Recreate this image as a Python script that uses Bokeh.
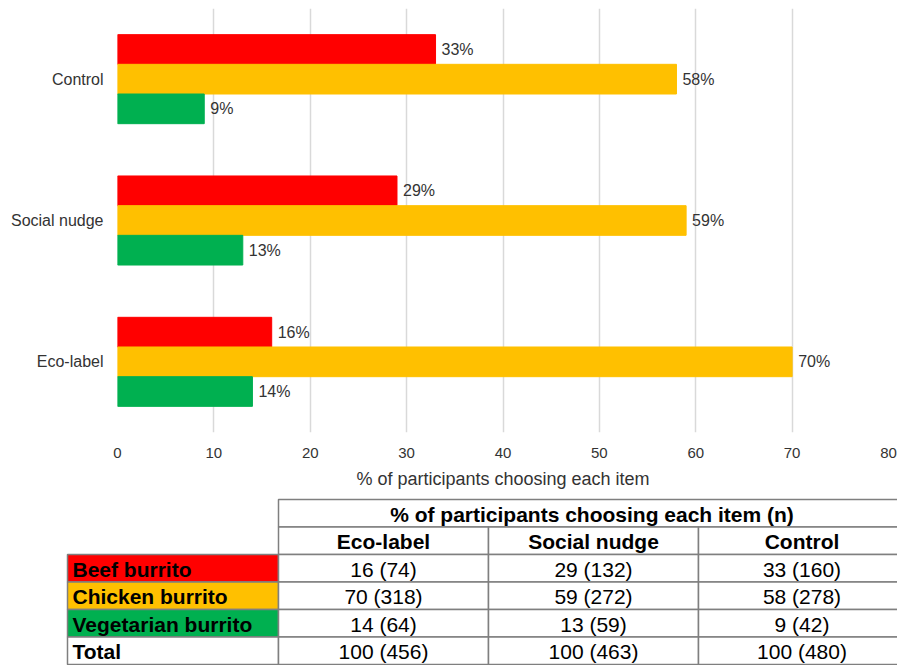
from bokeh.plotting import figure
from bokeh.models import FactorRange, Range1d, FixedTicker, ColumnDataSource
from bokeh.transform import dodge
from bokeh.layouts import column
from bokeh.core.properties import value
from bokeh.embed import file_html
from bokeh.resources import INLINE

# ---------------- data ----------------
groups = ["Eco-label", "Social nudge", "Control"]
items = ["Beef burrito", "Chicken burrito", "Vegetarian burrito"]
beef_pct = [16, 29, 33]
chicken_pct = [70, 59, 58]
veg_pct = [14, 13, 9]
total_pct = [100, 100, 100]
beef_n = [74, 132, 160]
chicken_n = [318, 272, 278]
veg_n = [64, 59, 42]
total_n = [456, 463, 480]
x_ticks = [0, 10, 20, 30, 40, 50, 60, 70, 80]
x_title = "% of participants choosing each item"
table_title = "% of participants choosing each item (n)"

FONT = "Liberation Sans"
RED, YEL, GRN = "#FF0000", "#FFC000", "#00B050"
TXT = "#333333"
W = 897

# ---------------- bar chart ----------------
src = ColumnDataSource(dict(
    group=groups, beef=beef_pct, chicken=chicken_pct, veg=veg_pct,
    beef_lbl=[f"{v}%" for v in beef_pct],
    chicken_lbl=[f"{v}%" for v in chicken_pct],
    veg_lbl=[f"{v}%" for v in veg_pct],
))

p = figure(width=W, height=493, y_range=FactorRange(*groups), x_range=Range1d(0, 80),
           output_backend="svg", toolbar_location=None,
           min_border_left=117, min_border_right=W - 888, min_border_top=8, min_border_bottom=61)
p.frame_align = False

bh = 0.21
for col, off, color in [("beef", bh, RED), ("chicken", 0.0, YEL), ("veg", -bh, GRN)]:
    yy = dodge("group", off, range=p.y_range)
    p.hbar(y=yy, left=0, right=col, height=bh, fill_color=color, line_color=color, source=src)
    p.text(x=col, y=yy, text=col + "_lbl", x_offset=6, text_baseline="middle", text_align="left",
           text_font=value(FONT), text_font_size="16px", text_color=TXT, source=src)

p.xaxis.ticker = FixedTicker(ticks=x_ticks)
p.xaxis.axis_label = x_title
for ax in (p.xaxis, p.yaxis):
    ax.axis_line_color = None
    ax.major_tick_line_color = None
    ax.minor_tick_line_color = None
    ax.major_label_text_font = FONT
    ax.major_label_text_color = TXT
p.xaxis.major_label_text_font_size = "15px"
p.yaxis.major_label_text_font_size = "16px"
p.xaxis.major_label_standoff = 9
p.yaxis.major_label_standoff = 8
p.xaxis.axis_label_text_font = FONT
p.xaxis.axis_label_text_font_style = "normal"
p.xaxis.axis_label_text_font_size = "18px"
p.xaxis.axis_label_text_color = TXT
p.xaxis.axis_label_standoff = 8
p.xgrid.grid_line_color = "#d9d9d9"
p.xgrid.grid_line_width = 1.5
p.ygrid.grid_line_color = None
p.outline_line_color = None

# ---------------- table ----------------
TH = 172
t = figure(width=W, height=TH, x_range=Range1d(0, W), y_range=Range1d(TH, 0),
           output_backend="svg", toolbar_location=None, min_border=0,
           x_axis_location=None, y_axis_location=None)
t.frame_align = False
t.grid.visible = False
t.outline_line_color = None

col_edges = [67, 278, 488, 698, 905]
rh = 27.5
top0 = 6
row_y = [top0 + rh * i for i in range(7)]

cells = dict(left=[], right=[], top=[], bottom=[], fill=[])
def add_cell(l, r, tp, b, f="white"):
    cells["left"].append(l); cells["right"].append(r)
    cells["top"].append(tp); cells["bottom"].append(b); cells["fill"].append(f)

bold = dict(x=[], y=[], text=[], align=[])
norm = dict(x=[], y=[], text=[], align=[])

add_cell(col_edges[1], col_edges[4] + 10, row_y[0], row_y[1])
bold["x"].append((col_edges[1] + col_edges[4]) / 2); bold["y"].append((row_y[0] + row_y[1]) / 2 + 1)
bold["text"].append(table_title); bold["align"].append("center")
for j, g in enumerate(groups):
    add_cell(col_edges[j + 1], col_edges[j + 2] + (10 if j == 2 else 0), row_y[1], row_y[2])
    bold["x"].append((col_edges[j + 1] + col_edges[j + 2]) / 2)
    bold["y"].append((row_y[1] + row_y[2]) / 2 + 1)
    bold["text"].append(g); bold["align"].append("center")

row_labels = items + ["Total"]
row_fill = [RED, YEL, GRN, "white"]
row_pct = [beef_pct, chicken_pct, veg_pct, total_pct]
row_n = [beef_n, chicken_n, veg_n, total_n]
for r in range(4):
    tp, b = row_y[r + 2], row_y[r + 3]
    add_cell(col_edges[0], col_edges[1], tp, b, row_fill[r])
    bold["x"].append(col_edges[0] + 5); bold["y"].append((tp + b) / 2 + 1)
    bold["text"].append(row_labels[r]); bold["align"].append("left")
    for j in range(3):
        add_cell(col_edges[j + 1], col_edges[j + 2] + (10 if j == 2 else 0), tp, b)
        norm["x"].append((col_edges[j + 1] + col_edges[j + 2]) / 2)
        norm["y"].append((tp + b) / 2 + 1)
        norm["text"].append(f"{row_pct[r][j]} ({row_n[r][j]})")
        norm["align"].append("center")

t.quad(left="left", right="right", top="top", bottom="bottom", fill_color="fill",
       line_color="#7f7f7f", line_width=1.5, source=ColumnDataSource(cells))
t.text(x="x", y="y", text="text", text_align="align", text_baseline="middle",
       text_font=value(FONT), text_font_style="bold", text_font_size="21px",
       text_color="black", source=ColumnDataSource(bold))
t.text(x="x", y="y", text="text", text_align="align", text_baseline="middle",
       text_font=value(FONT), text_font_style="normal", text_font_size="21px",
       text_color="black", source=ColumnDataSource(norm))

layout = column(p, t, spacing=0)
open("out.html", "w").write(file_html(layout, INLINE))
